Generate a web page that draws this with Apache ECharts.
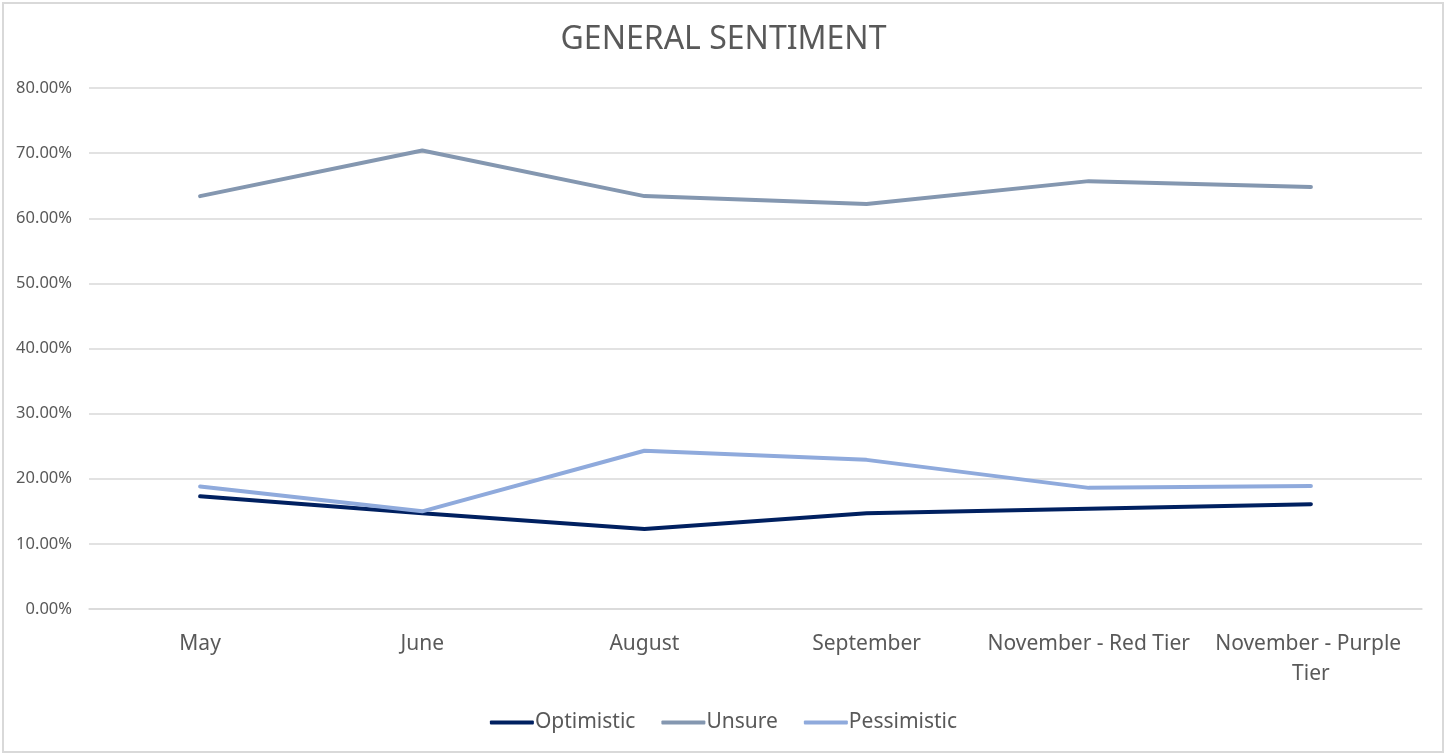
<!DOCTYPE html>
<html lang="en">
<head>
    <meta charset="UTF-8">
    <title>General Sentiment</title>
    <script src="https://cdn.jsdelivr.net/npm/echarts@6/dist/echarts.min.js"></script>
    <style>
        html, body { margin: 0; padding: 0; background: #fff; }
        #chart { width: 1447px; height: 756px; }
    </style>
</head>
<body>
<div id="chart"></div>
<script>
    // survey months
    var months = ['May', 'June', 'August', 'September', 'November - Red Tier', 'November - Purple Tier'];
    // shares
    var optimistic = [0.173, 0.147, 0.123, 0.147, 0.154, 0.161];
    var unsure = [0.634, 0.704, 0.634, 0.622, 0.657, 0.648];
    var pessimistic = [0.188, 0.150, 0.243, 0.229, 0.186, 0.189];

    var chart = echarts.init(document.getElementById('chart'));
    var font = 'Noto Sans';

    function line(name, data, color) {
        return {
            name: name,
            type: 'line',
            data: data,
            showSymbol: false,
            symbol: 'none',
            lineStyle: { width: 4, color: color, cap: 'round', join: 'round' },
            itemStyle: { color: color }
        };
    }

    chart.setOption({
        backgroundColor: '#ffffff',
        animation: false,
        graphic: [{
            type: 'rect',
            shape: { x: 3, y: 3, width: 1440, height: 749 },
            style: { fill: 'none', stroke: '#d9d9d9', lineWidth: 2 },
            silent: true
        }],
        title: {
            text: 'GENERAL SENTIMENT',
            left: 'center',
            top: 19,
            textStyle: { fontFamily: font, fontSize: 32, fontWeight: 'normal', color: '#595959' }
        },
        legend: {
            bottom: 18,
            left: 'center',
            itemWidth: 44,
            itemHeight: 4,
            itemGap: 26,
            icon: 'roundRect',
            textStyle: { fontFamily: font, fontSize: 21, color: '#595959', padding: [0, 0, 0, -4] },
            data: ['Optimistic', 'Unsure', 'Pessimistic']
        },
        grid: { left: 89, right: 25, top: 88, bottom: 147 },
        xAxis: {
            type: 'category',
            data: months,
            boundaryGap: true,
            axisLine: { show: true, lineStyle: { color: '#d9d9d9', width: 1.5 } },
            axisTick: { show: false },
            axisLabel: {
                margin: 20,
                interval: 0,
                width: 205,
                overflow: 'break',
                lineHeight: 30,
                fontFamily: font,
                fontSize: 21,
                color: '#595959'
            }
        },
        yAxis: {
            type: 'value',
            min: 0,
            max: 0.8,
            interval: 0.1,
            axisLine: { show: false },
            axisTick: { show: false },
            splitLine: { lineStyle: { color: '#d9d9d9', width: 1.5 } },
            axisLabel: {
                margin: 17,
                fontFamily: font,
                fontSize: 16.5,
                color: '#595959',
                formatter: function (v) { return (v * 100).toFixed(2) + '%'; }
            }
        },
        series: [
            line('Optimistic', optimistic, '#002060'),
            line('Unsure', unsure, '#8497b0'),
            line('Pessimistic', pessimistic, '#8faadc')
        ]
    });
</script>
</body>
</html>
